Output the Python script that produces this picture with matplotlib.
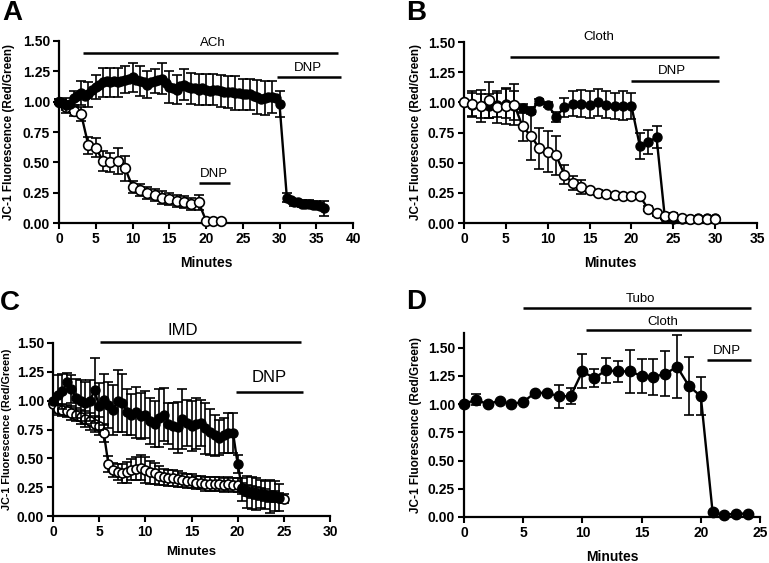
import numpy as np
import matplotlib
matplotlib.use("Agg")
import matplotlib.pyplot as plt

plt.rcParams['font.family'] = ['Liberation Sans', 'DejaVu Sans']

# ---------------- Panel A ----------------
tA_f = [0, 0.5, 1, 1.5, 2, 2.5, 3, 3.5, 4, 4.5, 5, 5.5, 6, 6.5, 7, 7.5, 8, 8.5, 9, 9.5,
        10, 10.5, 11, 11.5, 12, 12.5, 13, 13.5, 14, 14.5, 15, 15.5, 16, 16.5, 17, 17.5,
        18, 18.5, 19, 19.5, 20, 20.5, 21, 21.5, 22, 22.5, 23, 23.5, 24, 24.5, 25, 25.5,
        26, 26.5, 27, 27.5, 28, 28.5, 29, 29.5, 30,
        31, 31.5, 32, 32.5, 33, 33.5, 34, 34.5, 35, 35.5, 36]
yA_f = [1.00, 0.99, 0.97, 0.98, 1.03, 1.05, 1.07, 1.05, 1.06, 1.10, 1.12, 1.14, 1.16, 1.17,
        1.16, 1.17, 1.16, 1.17, 1.18, 1.19, 1.20, 1.18, 1.17, 1.16, 1.14, 1.16, 1.17, 1.18,
        1.19, 1.15, 1.12, 1.11, 1.10, 1.13, 1.14, 1.12, 1.11, 1.11, 1.10, 1.11, 1.10, 1.09,
        1.10, 1.10, 1.09, 1.08, 1.08, 1.08, 1.07, 1.07, 1.06, 1.06, 1.06, 1.05, 1.04, 1.02,
        1.03, 1.04, 1.04, 1.03, 0.98,
        0.21, 0.19, 0.17, 0.17, 0.16, 0.16, 0.16, 0.15, 0.15, 0.14, 0.12]
# SEM shown at whole minutes only
eA_f = [0.02, 0.06, 0.06, 0.10, 0.10, 0.10, 0.12, 0.12, 0.12, 0.11, 0.12, 0.12, 0.11, 0.10,
        0.13, 0.13, 0.12, 0.13, 0.13, 0.13, 0.13, 0.13, 0.13, 0.13, 0.14, 0.13, 0.13, 0.14,
        0.14, 0.13, 0.11,
        0.04, 0.03, 0.03, 0.03, 0.03, 0.06]
tA_o = [0, 1, 2, 3, 4, 5, 6, 7, 8, 9, 10, 11, 12, 13, 14, 15, 16, 17, 18, 19, 20, 21, 22]
yA_o = [1.00, 0.96, 0.92, 0.90, 0.64, 0.62, 0.51, 0.50, 0.51, 0.45, 0.30, 0.27, 0.25, 0.23,
        0.21, 0.20, 0.18, 0.17, 0.16, 0.17, 0.02, 0.02, 0.02]
eA_o = [0.02, 0.03, 0.04, 0.06, 0.07, 0.08, 0.08, 0.08, 0.11, 0.10, 0.05, 0.05, 0.05, 0.05,
        0.05, 0.05, 0.05, 0.05, 0.05, 0.06, 0.00, 0.00, 0.00]

# ---------------- Panel B ----------------
tB = list(range(0, 31))
yB_f = [1.00, 0.98, 0.97, 0.97, 0.98, 0.99, 0.97, 0.95, 0.93, 1.01, 0.98, 0.88, 0.96, 0.99,
        0.99, 0.98, 1.00, 0.98, 0.97, 0.97, 0.97, 0.64, 0.67, 0.71, 0.04, 0.03, 0.03, 0.03,
        0.04, 0.04, 0.04]
eB_f = [0.00, 0.10, 0.10, 0.10, 0.10, 0.12, 0.12, 0.04, 0.03, 0.02, 0.02, 0.04, 0.08, 0.10,
        0.11, 0.11, 0.11, 0.11, 0.11, 0.12, 0.11, 0.11, 0.10, 0.09, 0.01, 0.01, 0.01, 0.01,
        0.01, 0.01, 0.01]
yB_o = [1.00, 0.99, 0.97, 1.02, 0.96, 0.97, 0.98, 0.80, 0.72, 0.62, 0.59, 0.56, 0.40, 0.33,
        0.30, 0.27, 0.25, 0.24, 0.23, 0.22, 0.22, 0.22, 0.12, 0.08, 0.06, 0.06, 0.04, 0.03,
        0.03, 0.03, 0.03]
eB_o = [0.00, 0.10, 0.13, 0.15, 0.13, 0.15, 0.17, 0.12, 0.20, 0.17, 0.17, 0.16, 0.08, 0.06,
        0.06, 0.02, 0.02, 0.02, 0.02, 0.02, 0.02, 0.02, 0.02, 0.02, 0.02, 0.02, 0.01, 0.01,
        0.01, 0.01, 0.01]

# ---------------- Panel C ----------------
tC_o = [0, 0.5, 1, 1.5, 2, 2.5, 3, 3.5, 4, 4.5, 5, 5.5, 6, 6.5, 7, 7.5, 8, 8.5, 9, 9.5,
        10, 10.5, 11, 11.5, 12, 12.5, 13, 13.5, 14, 14.5, 15, 15.5, 16, 16.5, 17, 17.5,
        18, 18.5, 19, 19.5, 20, 20.5, 21, 21.5, 22, 22.5, 23, 23.5, 24, 24.5, 25]
tC_f = tC_o[:-1]
yC_f = [1.00, 1.05, 1.08, 1.16, 1.10, 1.02, 1.00, 0.98, 1.00, 1.09, 0.95, 1.01, 0.96, 0.92,
        1.00, 0.98, 0.90, 0.88, 0.90, 0.87, 0.88, 0.82, 0.80, 0.85, 0.88, 0.80, 0.78, 0.77,
        0.84, 0.81, 0.78, 0.80, 0.81, 0.76, 0.73, 0.70, 0.68, 0.70, 0.72, 0.72, 0.45, 0.23,
        0.21, 0.20, 0.19, 0.19, 0.18, 0.17, 0.17, 0.16]
eC_f = [0.00, 0.17, 0.15, 0.08, 0.12, 0.17, 0.18, 0.18, 0.18, 0.28, 0.20, 0.22, 0.20, 0.22,
        0.27, 0.25, 0.20, 0.18, 0.22, 0.20, 0.20, 0.20, 0.20, 0.25, 0.23, 0.18, 0.20, 0.22,
        0.26, 0.20, 0.22, 0.22, 0.20, 0.22, 0.20, 0.18, 0.15, 0.15, 0.17, 0.17, 0.08, 0.10,
        0.14, 0.14, 0.14, 0.12, 0.12, 0.14, 0.13, 0.12]
yC_o = [0.97, 0.93, 0.92, 0.91, 0.89, 0.88, 0.86, 0.84, 0.82, 0.80, 0.78, 0.72, 0.45, 0.40,
        0.38, 0.37, 0.38, 0.40, 0.41, 0.42, 0.40, 0.38, 0.37, 0.35, 0.34, 0.33, 0.33, 0.32,
        0.31, 0.30, 0.30, 0.29, 0.29, 0.28, 0.28, 0.28, 0.28, 0.27, 0.28, 0.27, 0.27, 0.24,
        0.22, 0.21, 0.20, 0.19, 0.18, 0.17, 0.17, 0.16, 0.15]
eC_o = [0.00, 0.04, 0.05, 0.05, 0.06, 0.06, 0.06, 0.07, 0.07, 0.07, 0.08, 0.08, 0.07, 0.06,
        0.07, 0.08, 0.09, 0.09, 0.10, 0.11, 0.11, 0.10, 0.09, 0.08, 0.07, 0.07, 0.07, 0.07,
        0.06, 0.06, 0.06, 0.06, 0.06, 0.06, 0.06, 0.06, 0.06, 0.06, 0.06, 0.06, 0.06, 0.05,
        0.05, 0.05, 0.05, 0.05, 0.05, 0.05, 0.05, 0.04, 0.04]

# ---------------- Panel D ----------------
tD = list(range(0, 25))
yD = [1.00, 1.04, 1.00, 1.03, 1.00, 1.02, 1.10, 1.10, 1.07, 1.07, 1.29, 1.23, 1.30, 1.29,
      1.29, 1.25, 1.24, 1.27, 1.33, 1.16, 1.07, 0.04, 0.02, 0.03, 0.03]
eD = [0.00, 0.05, 0.00, 0.00, 0.00, 0.00, 0.00, 0.00, 0.10, 0.07, 0.15, 0.08, 0.11, 0.09,
      0.19, 0.15, 0.16, 0.20, 0.28, 0.26, 0.17, 0.00, 0.00, 0.00, 0.00]

# treatment bars: (label, start, end, bar level, text x, text y, fontsize)
barsA = [("ACh", 3.3, 38.0, 1.40, 20.9, 1.48, 9.5),
         ("DNP", 29.7, 38.3, 1.20, 33.9, 1.28, 9.5),
         ("DNP", 19.0, 23.3, 0.33, 21.1, 0.40, 9.5)]
barsB = [("Cloth", 5.5, 30.5, 1.375, 16.1, 1.54, 9.5),
         ("DNP", 20.0, 30.5, 1.18, 24.8, 1.26, 9.5)]
barsC = [("IMD", 5.1, 26.9, 1.51, 14.0, 1.61, 12),
         ("DNP", 19.8, 27.1, 1.075, 23.4, 1.20, 12)]
barsD = [("Tubo", 5.0, 24.2, 1.85, 14.9, 1.93, 9.5),
         ("Cloth", 10.3, 24.2, 1.66, 16.8, 1.73, 9.5),
         ("DNP", 20.5, 24.2, 1.39, 22.2, 1.47, 9.5)]

fig = plt.figure(figsize=(7.69, 5.63), dpi=100)

def make_ax(rect, xmax, xstep, ymax, letter, letter_xy, ylab_x, xlab_y, xlab_size,
            ylab_size=8.5):
    ax = fig.add_axes(rect)
    ax.set_xlim(0, xmax)
    ax.set_ylim(0, ymax)
    ax.set_xticks(np.arange(0, xmax + 0.01, xstep))
    ax.set_yticks([0, 0.25, 0.5, 0.75, 1.0, 1.25, 1.5])
    ax.set_yticklabels(["%.2f" % v for v in [0, 0.25, 0.5, 0.75, 1.0, 1.25, 1.5]])
    for s in ['top', 'right']:
        ax.spines[s].set_visible(False)
    for s in ['left', 'bottom']:
        ax.spines[s].set_linewidth(1.6)
    ax.tick_params(direction='out', length=4.5, width=1.5, labelsize=10, pad=2)
    for lab in ax.get_xticklabels() + ax.get_yticklabels():
        lab.set_fontweight('bold')
    ax.set_ylabel("JC-1 Fluorescence (Red/Green)", fontsize=ylab_size, fontweight='bold')
    ax.yaxis.set_label_coords(ylab_x, 0.5)
    ax.set_xlabel("Minutes", fontsize=xlab_size, fontweight='bold')
    ax.xaxis.set_label_coords(0.5, xlab_y)
    fig.text(letter_xy[0], letter_xy[1], letter, fontsize=20, fontweight='bold',
             ha='center', va='center')
    return ax

def series(ax, t, y, e, filled, ms=6, z=3, err_mask=None):
    t = np.asarray(t, float)
    y = np.asarray(y, float)
    if err_mask is not None:
        te, ye = t[err_mask], y[err_mask]
    else:
        te, ye = t, y
    ax.errorbar(te, ye, yerr=e, fmt='none', ecolor='black', elinewidth=1.2,
                capsize=3.6, capthick=1.2, clip_on=False, zorder=z)
    if filled:
        ax.plot(t, y, '-', color='black', lw=1.7, marker='o', ms=ms,
                mfc='black', mec='black', clip_on=False, zorder=z + 0.5)
    else:
        ax.plot(t, y, '-', color='black', lw=1.7, marker='o', ms=ms,
                mfc='white', mec='black', mew=1.2, clip_on=False, zorder=z + 0.5)

def draw_bars(ax, bars):
    for lab, x0, x1, lev, tx, ty, fs in bars:
        ax.plot([x0, x1], [lev, lev], color='black', lw=1.8, clip_on=False,
                solid_capstyle='butt')
        ax.text(tx, ty, lab, ha='center', va='center', fontsize=fs, clip_on=False)

# Panel A
axA = make_ax([59/769, 1-223/563, 294/769, 182/563], 40, 5, 1.5, "A", (12/769, 1-13/563),
              -0.151, -0.181, 10)
tAf = np.asarray(tA_f, float)
maskA = np.isclose(tAf % 1, 0)
series(axA, tA_o, yA_o, eA_o, False, ms=7, z=3)
series(axA, tA_f, yA_f, eA_f, True, ms=6.5, z=4, err_mask=maskA)
draw_bars(axA, barsA)

# Panel B
axB = make_ax([464/769, 1-223/563, 293/769, 181/563], 35, 5, 1.5, "B", (416/769, 1-13/563),
              -0.143, -0.182, 10)
series(axB, tB, yB_f, eB_f, True, ms=6.5, z=3)
series(axB, tB, yB_o, eB_o, False, ms=7, z=4)
draw_bars(axB, barsB)

# Panel C
axC = make_ax([53/769, 1-516/563, 277/769, 173/563], 30, 5, 1.5, "C", (10/769, 1-303/563),
              -0.148, -0.176, 9.5, ylab_size=7.8)
series(axC, tC_o, yC_o, eC_o, False, ms=6.5, z=3)
series(axC, tC_f, yC_f, eC_f, True, ms=6.5, z=4)
draw_bars(axC, barsC)

# Panel D
axD = make_ax([464/769, 1-517/563, 296/769, 184/563], 25, 5, 1.63, "D", (416/769, 1-302/563),
              -0.142, -0.179, 10)
series(axD, tD, yD, eD, True, ms=7.5, z=3)
draw_bars(axD, barsD)

fig.savefig("out.png", dpi=100)
